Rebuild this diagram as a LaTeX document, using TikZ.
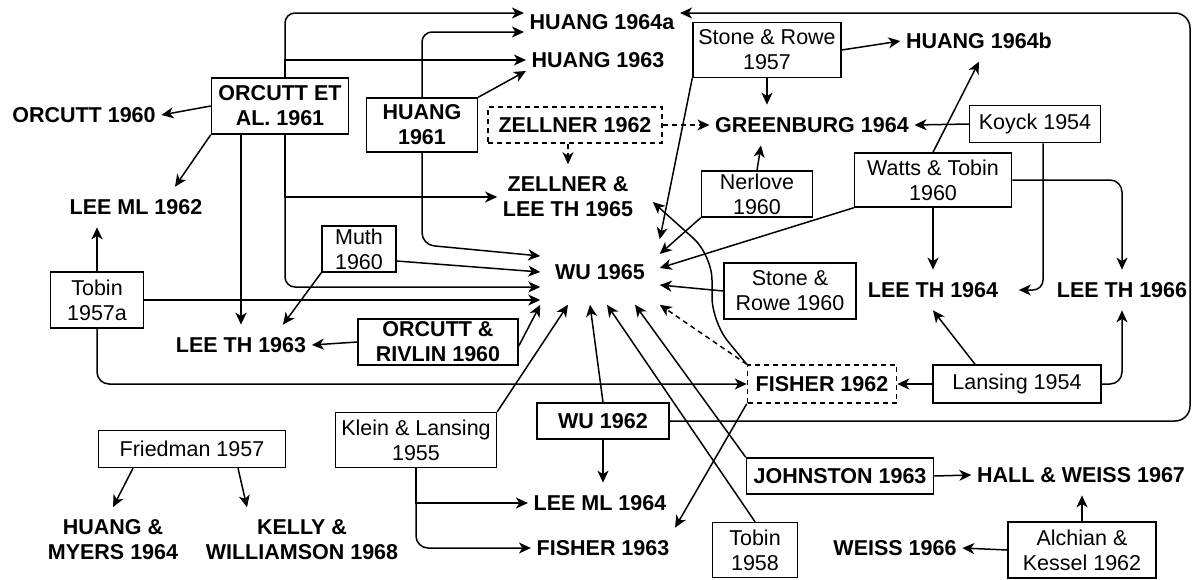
\documentclass[tikz,border=0pt]{standalone}
\usepackage{fontspec}
\setmainfont{Liberation Sans}
\usepackage{tikz}
\usetikzlibrary{arrows.meta,calc}

\begin{document}
\begin{tikzpicture}[>={Stealth[length=12pt,width=11pt,inset=3.5pt]},x=1pt,y=-1pt,line width=1.5pt,
  paper/.style={draw,align=center,inner sep=1pt,font=\fontsize{21.5}{25}\selectfont},
  boldpaper/.style={paper,font=\fontsize{21.5}{25}\selectfont\bfseries},
  cited/.style={align=center,inner xsep=5pt,inner ysep=12pt,font=\fontsize{21.5}{25}\selectfont\bfseries},
  dashbox/.style={dash pattern=on 5pt off 4pt}]
\useasboundingbox (0,0) rectangle (1195,579);
% papers that are cited
\node[cited] (huang64a) at (602,22) {HUANG 1964a};
\node[cited] (huang63) at (598,60) {HUANG 1963};
\node[cited] (orcutt60) at (84,115) {ORCUTT 1960};
\node[cited] (leeml62) at (136,207) {LEE ML 1962};
\node[cited] (zellee65) at (568,197) {ZELLNER \&\\LEE TH 1965};
\node[cited] (greenburg64) at (812,125) {GREENBURG 1964};
\node[cited] (huang64b) at (979,41) {HUANG 1964b};
\node[cited,minimum width=118,minimum height=64] (wu65) at (600,272) {WU 1965};
\node[cited] (leeth64) at (933,290) {LEE TH 1964};
\node[cited] (leeth66) at (1122,290) {LEE TH 1966};
\node[cited] (leeth63) at (241,345) {LEE TH 1963};
\node[cited] (leeml64) at (600,503) {LEE ML 1964};
\node[cited] (fisher63) at (603,548) {FISHER 1963};
\node[cited] (huangmyers64) at (113,540) {HUANG \&\\MYERS 1964};
\node[cited] (kelly68) at (302,540) {KELLY \&\\WILLIAMSON 1968};
\node[cited] (hallweiss67) at (1081,475) {HALL \& WEISS 1967};
\node[cited] (weiss66) at (895,548) {WEISS 1966};
% boxed sources
\node[boldpaper,minimum width=137,minimum height=56] (orcuttetal61) at (280,106) {ORCUTT ET\\AL. 1961};
\node[boldpaper,minimum width=111,minimum height=54] (huang61) at (422,125) {HUANG\\1961};
\node[boldpaper,dashbox,minimum width=174,minimum height=36] (zellner62) at (575,125) {ZELLNER 1962};
\node[paper,minimum width=148,minimum height=55] (stonerowe57) at (767,50) {Stone \& Rowe\\1957};
\node[paper,minimum width=131,minimum height=37] (koyck54) at (1035,124) {Koyck 1954};
\node[paper,minimum width=157,minimum height=54] (wattstobin60) at (933,180) {Watts \& Tobin\\1960};
\node[paper,minimum width=111,minimum height=46] (nerlove60) at (757,194) {Nerlove\\1960};
\node[paper,minimum width=132,minimum height=56] (stonerowe60) at (790,291) {Stone \&\\Rowe 1960};
\node[paper,minimum width=74,minimum height=46] (muth60) at (359,249) {Muth\\1960};
\node[paper,minimum width=93,minimum height=56] (tobin57a) at (97,300) {Tobin\\1957a};
\node[boldpaper,minimum width=160,minimum height=46] (orcuttrivlin60) at (438,342) {ORCUTT \&\\RIVLIN 1960};
\node[boldpaper,dashbox,minimum width=149,minimum height=38] (fisher62) at (822,384) {FISHER 1962};
\node[paper,minimum width=168,minimum height=38] (lansing54) at (1017,384) {Lansing 1954};
\node[boldpaper,minimum width=132,minimum height=36] (wu62) at (603,421) {WU 1962};
\node[paper,minimum width=161,minimum height=55] (kleinlansing55) at (416,440) {Klein \& Lansing\\1955};
\node[paper,minimum width=187,minimum height=37] (friedman57) at (192,449) {Friedman 1957};
\node[boldpaper,minimum width=187,minimum height=36] (johnston63) at (840,476) {JOHNSTON 1963};
\node[paper,minimum width=85,minimum height=55] (tobin58) at (755,550) {Tobin\\1958};
\node[paper,minimum width=148,minimum height=56] (alchian62) at (1082,550) {Alchian \&\\Kessel 1962};
% ORCUTT ET AL. 1961
\draw[->] (orcuttetal61.west) -- (orcutt60.east);
\draw[->] (orcuttetal61.south west) -- ([xshift=39pt]leeml62.north);
\draw[->] (orcuttetal61.south -| leeth63.north) -- (leeth63.north);
\draw[->,rounded corners=10pt] ([xshift=5pt]orcuttetal61.north) |- ([yshift=9pt]huang64a.west);
\draw[->] ([xshift=5pt]orcuttetal61.north) |- (huang63.west);
\draw[->] ([xshift=5pt]orcuttetal61.south) |- (zellee65.west);
\draw[->,rounded corners=10pt] ([xshift=5pt]orcuttetal61.south) |- ([yshift=-15pt]wu65.west);
% HUANG 1961
\draw[->,rounded corners=10pt] (huang61.north) |- ([yshift=-10pt]huang64a.west);
\draw[->] (huang61.north east) -- ([yshift=-11pt]huang63.west);
\draw[->,rounded corners=12pt] (huang61.south) -- ([yshift=-92pt]huang61.south) -- ([yshift=16pt]wu65.west);
% left side into WU 1965
\draw[->] (tobin57a.north) -- (tobin57a.north |- leeml62.south);
\draw[->] (tobin57a.east) -- ([yshift=-28pt]wu65.west);
\draw[->,rounded corners=12pt] (tobin57a.south) |- (fisher62.west);
\draw[->] (muth60.south west) -- ([xshift=42pt]leeth63.north);
\draw[->] ([yshift=-12pt]muth60.east) -- (wu65.west);
\draw[->] (orcuttrivlin60.west) -- (leeth63.east);
\draw[->] ([yshift=-4pt]orcuttrivlin60.east) -- (wu65.south west);
% ZELLNER 1962
\draw[->,dashbox] (zellner62.east) -- (greenburg64.west);
\draw[->,dashbox] (zellee65.north |- zellner62.south) -- (zellee65.north);
% right side
\draw[->] (stonerowe57.east) -- (huang64b.west);
\draw[->] (stonerowe57.south) -- (stonerowe57.south |- greenburg64.north);
\draw[->] (stonerowe57.south west) -- (wu65.north east);
\draw[->] (koyck54.west) -- (greenburg64.east);
\draw[->,rounded corners=10pt] ([xshift=8pt]koyck54.south) |- ([xshift=15pt]leeth64.east);
\draw[->] (wattstobin60.north) -- (huang64b.south);
\draw[->] (wattstobin60.south) -- (leeth64.north);
\draw[->,rounded corners=12pt] (wattstobin60.east) -| (leeth66.north);
\draw[->] (wattstobin60.south west) -- ([yshift=4pt]wu65.east);
\draw[->] (nerlove60.north) -- ([xshift=-51pt]greenburg64.south);
\draw[->] (nerlove60.south west) -- ([yshift=18pt]wu65.east);
\draw[->] (stonerowe60.west) -- ([yshift=-13pt]wu65.east);
% FISHER 1962 and Lansing 1954
\draw[->,dashbox] (fisher62.north west) -- (wu65.south east);
\draw[->,rounded corners=25pt] (fisher62.north west) -- (712,322) -- (712,255) -- ([xshift=14pt,yshift=-5pt]zellee65.east);
\draw[->] (fisher62.south west) -- (fisher63.north east);
\draw[->] (lansing54.west) -- (fisher62.east);
\draw[->] ([xshift=-42pt]lansing54.north) -- (leeth64.south);
\draw[->,rounded corners=12pt] (lansing54.east) -| (leeth66.south);
% bottom
\draw[->] (wu62.north) -- ([xshift=-10pt]wu65.south);
\draw[->] (wu62.south) -- (wu62.south |- leeml64.north);
\draw[->,rounded corners=15pt] (wu62.east) -| (1190,13) -- ([yshift=9pt]huang64a.east);
\draw[->] (kleinlansing55.north east) -- ([xshift=-32pt]wu65.south);
\draw[->] (kleinlansing55.south) |- (leeml64.west);
\draw[->,rounded corners=12pt] (kleinlansing55.south) |- (fisher63.west);
\draw[->] (johnston63.north west) -- ([xshift=35pt]wu65.south);
\draw[->] (tobin58.north) -- ([xshift=7pt]wu65.south);
\draw[->] (johnston63.east) -- (hallweiss67.west);
\draw[->] (alchian62.north) -- (alchian62.north |- hallweiss67.south);
\draw[->] (alchian62.west) -- (weiss66.east);
\draw[->] ([xshift=-59pt]friedman57.south) -- (huangmyers64.north);
\draw[->] ([xshift=46pt]friedman57.south) -- ([xshift=-55pt]kelly68.north);
\end{tikzpicture}
\end{document}
